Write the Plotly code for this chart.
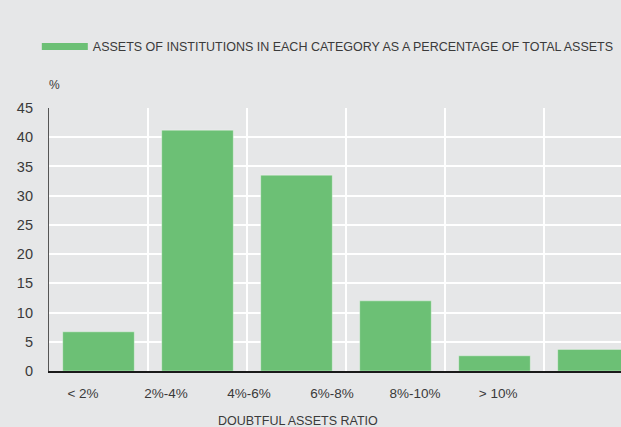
import plotly.graph_objects as go

categories = ["< 2%", "2%-4%", "4%-6%", "6%-8%", "8%-10%", "> 10%"]
values = [6.7, 41.2, 33.5, 12.0, 2.6, 3.7]
y_ticks = [0, 5, 10, 15, 20, 25, 30, 35, 40, 45]
legend_label = "ASSETS OF INSTITUTIONS IN EACH CATEGORY AS A PERCENTAGE OF TOTAL ASSETS"
x_title = "DOUBTFUL ASSETS RATIO"
y_unit = "%"

GREEN = "#6cc075"
BG = "#e6e7e8"
TXT = "#3a3a3a"
FONT = "Liberation Sans, Arial, sans-serif"

fig = go.Figure()
fig.add_trace(go.Bar(
    x=categories, y=values, width=0.723,
    marker=dict(color=GREEN, line=dict(color="rgba(255,255,255,0.35)", width=1)),
    showlegend=False, hoverinfo="skip",
))
# label axis carrier (invisible)
fig.add_trace(go.Scatter(
    x=categories, y=values, xaxis="x2", mode="markers",
    marker=dict(opacity=0), showlegend=False, hoverinfo="skip",
))
# legend entry
fig.add_trace(go.Scatter(
    x=[None], y=[None], mode="lines", name=legend_label,
    line=dict(color=GREEN, width=7),
))

fig.update_layout(
    width=621, height=427,
    margin=dict(l=49, r=0, t=108, b=56),
    paper_bgcolor=BG, plot_bgcolor=BG,
    font=dict(family=FONT, color=TXT),
    showlegend=True,
    legend=dict(
        x=-0.0213, xanchor="left", y=1.232, yanchor="middle",
        bgcolor="rgba(0,0,0,0)", font=dict(size=12.5, color=TXT),
        itemwidth=46,
    ),
    xaxis=dict(
        type="category", range=[-0.5, 5.278],
        showgrid=True, gridcolor="white", gridwidth=2,
        tickson="boundaries", showticklabels=False, ticks="",
        showline=True, linecolor="#1a1a1a", linewidth=1.5,
        zeroline=False, fixedrange=True,
    ),
    xaxis2=dict(
        type="category", range=[-0.41, 6.48], overlaying="x", side="bottom",
        anchor="y", showgrid=False, showline=False, zeroline=False,
        ticks="outside", ticklen=10, tickcolor="rgba(0,0,0,0)",
        tickfont=dict(size=13.5, color=TXT),
    ),
    yaxis=dict(
        range=[0, 45], tickvals=y_ticks,
        showgrid=True, gridcolor="white", gridwidth=1.5,
        showline=True, linecolor="#555555", linewidth=1.2,
        zeroline=False, ticks="", ticklabelstandoff=12,
        tickfont=dict(size=14.5, color=TXT),
    ),
    annotations=[
        dict(text=x_title, xref="paper", yref="paper", x=0.4353, y=-0.19,
             xanchor="center", yanchor="middle", showarrow=False,
             font=dict(size=12.5, color=TXT)),
        dict(text=y_unit, xref="paper", yref="paper", x=0.0096, y=1.089,
             xanchor="center", yanchor="middle", showarrow=False,
             font=dict(size=12, color=TXT)),
    ],
    bargap=0.277,
)

fig.write_html("out.html")
